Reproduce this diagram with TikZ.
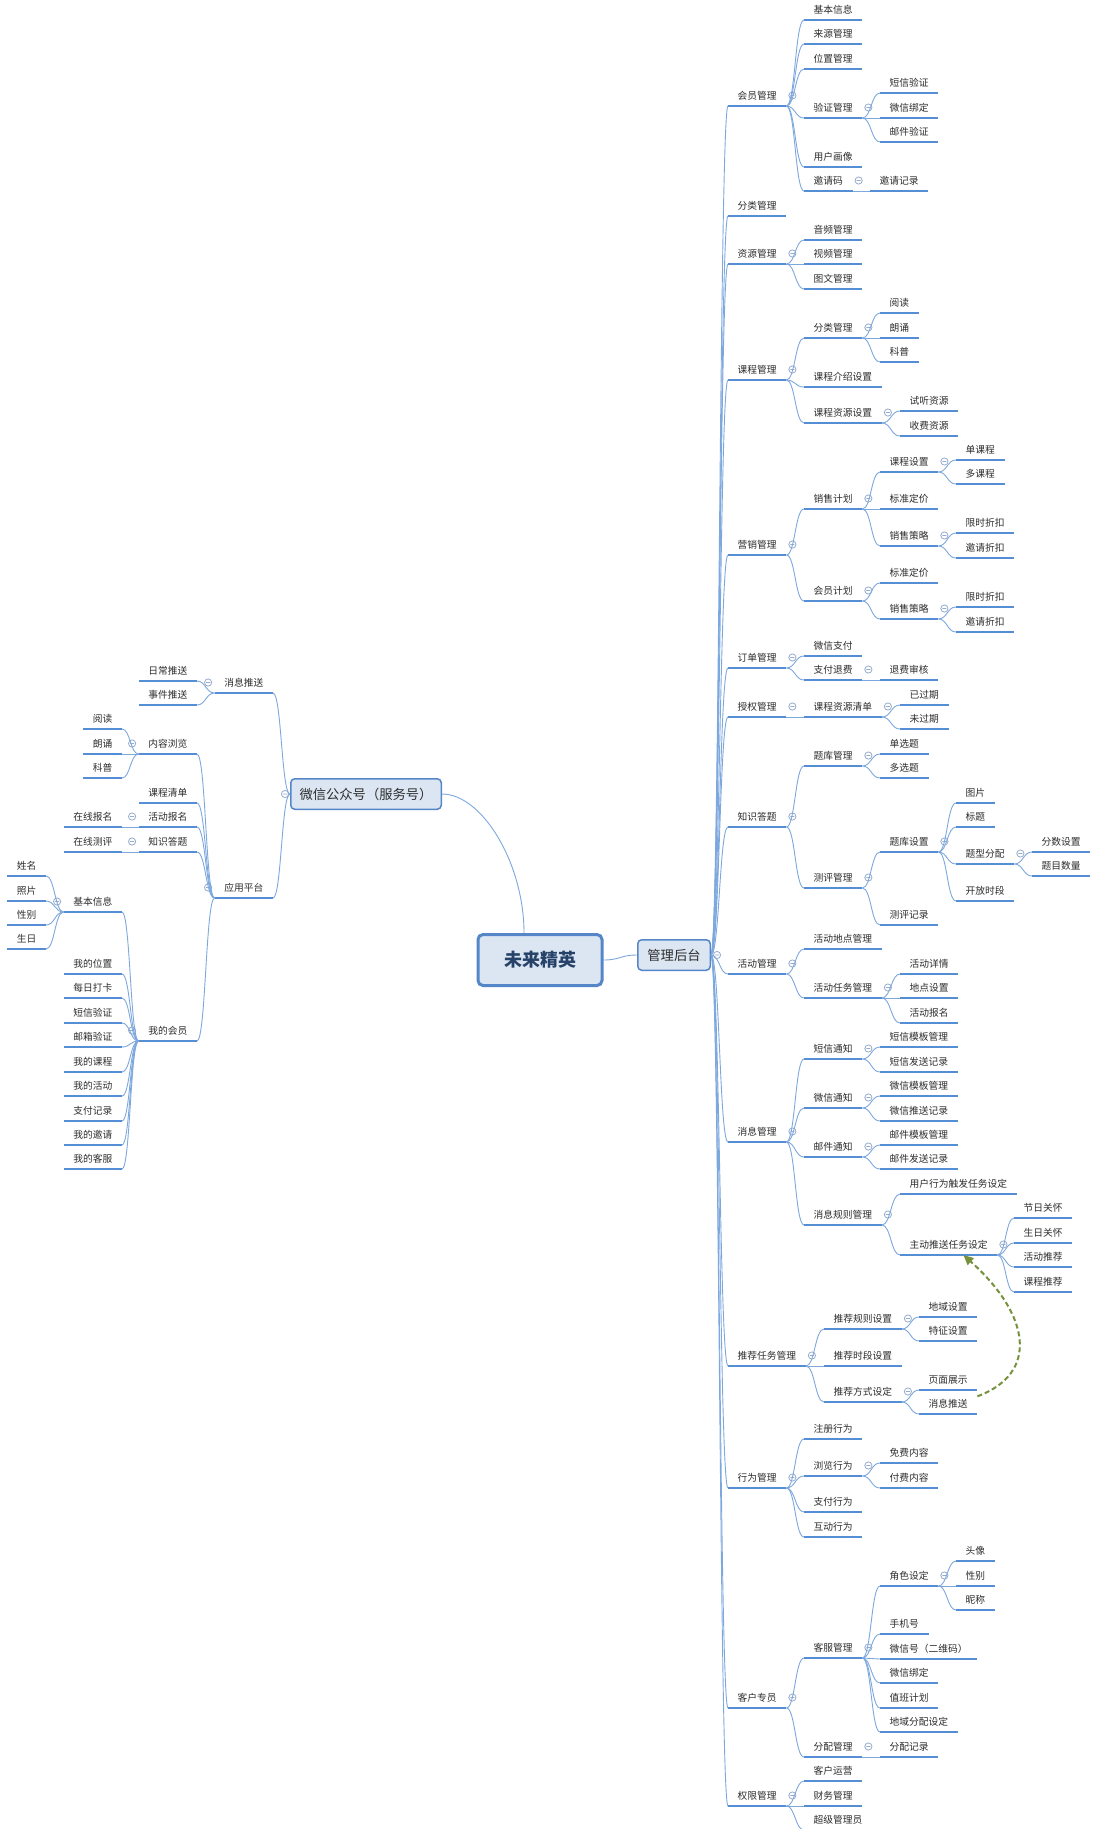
\documentclass[tikz,border=0pt]{standalone}
\usepackage{fontspec}
\usepackage{tikz}
\usetikzlibrary{arrows.meta,calc,positioning}
\newfontfamily\cjk{Noto Sans CJK SC}
\definecolor{ulblue}{RGB}{85,142,213}
\definecolor{lnblue}{RGB}{125,168,222}
\definecolor{foldgray}{RGB}{150,172,205}
\definecolor{boxfill}{RGB}{220,230,242}
\definecolor{boxline}{RGB}{84,134,200}
\definecolor{roottext}{RGB}{38,66,105}
\definecolor{topictext}{RGB}{45,45,45}
\definecolor{linkgreen}{RGB}{118,146,60}
\tikzset{
  uline/.style   = {draw=ulblue, line width=2.4pt},
  conn/.style    = {draw=lnblue, line width=0.9pt},
  branch/.style  = {conn, to path={.. controls ($(\tikztostart)!.5!(\tikztotarget |- \tikztostart)$)
                      and ($(\tikztotarget)!.5!(\tikztotarget -| \tikztostart)$) .. (\tikztotarget)}},
  topic/.style   = {anchor=south west, font=\cjk\fontsize{9.75pt}{11pt}\selectfont, text=topictext,
                    inner xsep=9.5pt, inner ysep=3pt, text height=8pt, text depth=3.3pt,
                    append after command={(\tikzlastnode.south west) edge[uline] (\tikzlastnode.south east)}},
  ltopic/.style  = {topic, anchor=south east},
  foldline/.style = {draw=foldgray, line width=0.8pt, fill=white},
  pics/foldmark/.style = {code={\draw[foldline] (0pt,0pt) circle[radius=3.6pt] (-2pt,0pt) -- (2pt,0pt);}},
  fold/.style    = {append after command={([shift={(6pt,10.5pt)}]\tikzlastnode.south east) pic{foldmark}}},
  lfold/.style   = {append after command={([shift={(-6.5pt,10.5pt)}]\tikzlastnode.south west) pic{foldmark}}},
  rootbox/.style = {draw=boxline, fill=boxfill, line width=3pt, rounded corners=5pt, text=roottext,
                    font=\cjk\bfseries\fontsize{18pt}{20pt}\selectfont, minimum width=124pt, minimum height=51pt},
  subbox/.style  = {draw=boxline, fill=boxfill, line width=1.5pt, rounded corners=4pt, text=topictext,
                    font=\cjk\fontsize{13.3pt}{15pt}\selectfont, minimum height=30.5pt},
  dlink/.style   = {draw=linkgreen, line width=2pt, dash pattern=on 5pt off 3pt,
                    -{Triangle[length=10pt,width=9pt]}},
}
\begin{document}
\begin{tikzpicture}[x=1pt, y=-1pt]
\fill[white] (0,0) rectangle (1093,1829);
\useasboundingbox (0,0) rectangle (1093,1829);

% centre and the two sides
\node[rootbox] (wm) at (540,960) {未来精英};
\node[subbox, minimum width=72.5pt] (glht) at (674,955) {管理后台};
\node[subbox, minimum width=150.5pt] (gzh) at (366,794) {微信公众号（服务号）};
\pic at ([xshift=6pt]glht.east) {foldmark};
\pic at ([xshift=-5pt]gzh.west) {foldmark};
\path (wm.east) edge[branch] (glht.west);
\draw[conn] ([xshift=-16pt]wm.north) .. controls +(0,-70) and +(40,0) .. (gzh.east);

% 管理后台: first level
\node[topic, fold] (hygl) at (728,106) {会员管理};
\node[topic] (flgl) at (728,216) {分类管理};
\node[topic, fold] (zygl) at (728,264) {资源管理};
\node[topic, fold] (kcgl) at (728,380) {课程管理};
\node[topic, fold] (yxgl) at (728,555) {营销管理};
\node[topic, fold] (ddgl) at (728,668) {订单管理};
\node[topic, fold] (sqgl) at (728,717) {授权管理};
\node[topic, fold] (zsdt) at (728,827) {知识答题};
\node[topic, fold] (hdgl) at (728,974) {活动管理};
\node[topic, fold] (xxgl) at (728,1142) {消息管理};
\node[topic, fold] (tjrw) at (728,1366) {推荐任务管理};
\node[topic, fold] (xwgl) at (728,1488) {行为管理};
\node[topic, fold] (khzy) at (728,1708) {客户专员};
\node[topic, fold] (qxgl) at (728,1806) {权限管理};
\path (glht.east) edge[branch] (hygl.south west) edge[branch] (flgl.south west)
  edge[branch] (zygl.south west) edge[branch] (kcgl.south west) edge[branch] (yxgl.south west)
  edge[branch] (ddgl.south west) edge[branch] (sqgl.south west) edge[branch] (zsdt.south west)
  edge[branch] (hdgl.south west) edge[branch] (xxgl.south west) edge[branch] (tjrw.south west)
  edge[branch] (xwgl.south west) edge[branch] (khzy.south west) edge[branch] (qxgl.south west);

% 会员管理
\node[topic] (jbxx) at (804,20) {基本信息};
\node[topic] (lygl) at (804,44) {来源管理};
\node[topic] (wzgl) at (804,69) {位置管理};
\node[topic, fold] (yzgl) at (804,118) {验证管理};
\node[topic] (yhhx) at (804,167) {用户画像};
\node[topic, fold] (yqm) at (804,191) {邀请码};
\node[topic] (dxyz) at (880,93) {短信验证};
\node[topic] (wxbd) at (880,118) {微信绑定};
\node[topic] (yjyz) at (880,142) {邮件验证};
\node[topic] (yqjl) at (870,191) {邀请记录};
\path (hygl.south east) edge[branch] (jbxx.south west) edge[branch] (lygl.south west)
  edge[branch] (wzgl.south west) edge[branch] (yzgl.south west) edge[branch] (yhhx.south west)
  edge[branch] (yqm.south west);
\path (yzgl.south east) edge[branch] (dxyz.south west) edge[branch] (wxbd.south west)
  edge[branch] (yjyz.south west);
\path (yqm.south east) edge[branch] (yqjl.south west);

% 资源管理
\node[topic] (ypgl) at (804,240) {音频管理};
\node[topic] (spgl) at (804,264) {视频管理};
\node[topic] (twgl) at (804,289) {图文管理};
\path (zygl.south east) edge[branch] (ypgl.south west) edge[branch] (spgl.south west)
  edge[branch] (twgl.south west);

% 课程管理
\node[topic, fold] (kcfl) at (804,338) {分类管理};
\node[topic] (kcjs) at (804,387) {课程介绍设置};
\node[topic, fold] (kczy) at (804,423) {课程资源设置};
\node[topic] (yd) at (880,313) {阅读};
\node[topic] (ls) at (880,338) {朗诵};
\node[topic] (kp) at (880,362) {科普};
\node[topic] (stzy) at (900,411) {试听资源};
\node[topic] (sfzy) at (900,436) {收费资源};
\path (kcgl.south east) edge[branch] (kcfl.south west) edge[branch] (kcjs.south west)
  edge[branch] (kczy.south west);
\path (kcfl.south east) edge[branch] (yd.south west) edge[branch] (ls.south west)
  edge[branch] (kp.south west);
\path (kczy.south east) edge[branch] (stzy.south west) edge[branch] (sfzy.south west);

% 营销管理
\node[topic, fold] (xsjh) at (804,509) {销售计划};
\node[topic, fold] (hyjh) at (804,601) {会员计划};
\node[topic, fold] (kcsz) at (880,472) {课程设置};
\node[topic] (bzdj) at (880,509) {标准定价};
\node[topic, fold] (xscl) at (880,546) {销售策略};
\node[topic] (dankc) at (956,460) {单课程};
\node[topic] (duokc) at (956,484) {多课程};
\node[topic] (xszk) at (956,533) {限时折扣};
\node[topic] (yqzk) at (956,558) {邀请折扣};
\node[topic] (hybzdj) at (880,583) {标准定价};
\node[topic, fold] (hyxscl) at (880,619) {销售策略};
\node[topic] (hyxszk) at (956,607) {限时折扣};
\node[topic] (hyyqzk) at (956,632) {邀请折扣};
\path (yxgl.south east) edge[branch] (xsjh.south west) edge[branch] (hyjh.south west);
\path (xsjh.south east) edge[branch] (kcsz.south west) edge[branch] (bzdj.south west)
  edge[branch] (xscl.south west);
\path (kcsz.south east) edge[branch] (dankc.south west) edge[branch] (duokc.south west);
\path (xscl.south east) edge[branch] (xszk.south west) edge[branch] (yqzk.south west);
\path (hyjh.south east) edge[branch] (hybzdj.south west) edge[branch] (hyxscl.south west);
\path (hyxscl.south east) edge[branch] (hyxszk.south west) edge[branch] (hyyqzk.south west);

% 订单管理 and 授权管理
\node[topic] (wxzf) at (804,656) {微信支付};
\node[topic, fold] (zftf) at (804,680) {支付退费};
\node[topic] (tfsh) at (880,680) {退费审核};
\node[topic, fold] (zyqd) at (804,717) {课程资源清单};
\node[topic] (ygq) at (900,705) {已过期};
\node[topic] (wgq) at (900,729) {未过期};
\path (ddgl.south east) edge[branch] (wxzf.south west) edge[branch] (zftf.south west);
\path (zftf.south east) edge[branch] (tfsh.south west);
\path (sqgl.south east) edge[branch] (zyqd.south west);
\path (zyqd.south east) edge[branch] (ygq.south west) edge[branch] (wgq.south west);

% 知识答题
\node[topic, fold] (tkgl) at (804,766) {题库管理};
\node[topic, fold] (cpgl) at (804,888) {测评管理};
\node[topic] (danxt) at (880,754) {单选题};
\node[topic] (duoxt) at (880,778) {多选题};
\node[topic, fold] (tksz) at (880,852) {题库设置};
\node[topic] (cpjl) at (880,925) {测评记录};
\node[topic] (tp) at (956,803) {图片};
\node[topic] (bt) at (956,827) {标题};
\node[topic, fold] (txfp) at (956,864) {题型分配};
\node[topic] (kfsd) at (956,901) {开放时段};
\node[topic] (fssz) at (1032,852) {分数设置};
\node[topic] (tmsl) at (1032,876) {题目数量};
\path (zsdt.south east) edge[branch] (tkgl.south west) edge[branch] (cpgl.south west);
\path (tkgl.south east) edge[branch] (danxt.south west) edge[branch] (duoxt.south west);
\path (cpgl.south east) edge[branch] (tksz.south west) edge[branch] (cpjl.south west);
\path (tksz.south east) edge[branch] (tp.south west) edge[branch] (bt.south west)
  edge[branch] (txfp.south west) edge[branch] (kfsd.south west);
\path (txfp.south east) edge[branch] (fssz.south west) edge[branch] (tmsl.south west);

% 活动管理
\node[topic] (hddd) at (804,949) {活动地点管理};
\node[topic, fold] (hdrw) at (804,998) {活动任务管理};
\node[topic] (hdxq) at (900,974) {活动详情};
\node[topic] (ddsz) at (900,998) {地点设置};
\node[topic] (hdbm) at (900,1023) {活动报名};
\path (hdgl.south east) edge[branch] (hddd.south west) edge[branch] (hdrw.south west);
\path (hdrw.south east) edge[branch] (hdxq.south west) edge[branch] (ddsz.south west)
  edge[branch] (hdbm.south west);

% 消息管理
\node[topic, fold] (dxtz) at (804,1059) {短信通知};
\node[topic, fold] (wxtz) at (804,1108) {微信通知};
\node[topic, fold] (yjtz) at (804,1157) {邮件通知};
\node[topic, fold] (xxgz) at (804,1225) {消息规则管理};
\node[topic] (dxmb) at (880,1047) {短信模板管理};
\node[topic] (dxfs) at (880,1072) {短信发送记录};
\node[topic] (wxmb) at (880,1096) {微信模板管理};
\node[topic] (wxtsjl) at (880,1121) {微信推送记录};
\node[topic] (yjmb) at (880,1145) {邮件模板管理};
\node[topic] (yjfs) at (880,1169) {邮件发送记录};
\node[topic] (yhxw) at (900,1194) {用户行为触发任务设定};
\node[topic, fold] (zdts) at (900,1255) {主动推送任务设定};
\node[topic] (jrgh) at (1014,1218) {节日关怀};
\node[topic] (srgh) at (1014,1243) {生日关怀};
\node[topic] (hdtj) at (1014,1267) {活动推荐};
\node[topic] (kctj) at (1014,1292) {课程推荐};
\path (xxgl.south east) edge[branch] (dxtz.south west) edge[branch] (wxtz.south west)
  edge[branch] (yjtz.south west) edge[branch] (xxgz.south west);
\path (dxtz.south east) edge[branch] (dxmb.south west) edge[branch] (dxfs.south west);
\path (wxtz.south east) edge[branch] (wxmb.south west) edge[branch] (wxtsjl.south west);
\path (yjtz.south east) edge[branch] (yjmb.south west) edge[branch] (yjfs.south west);
\path (xxgz.south east) edge[branch] (yhxw.south west) edge[branch] (zdts.south west);
\path (zdts.south east) edge[branch] (jrgh.south west) edge[branch] (srgh.south west)
  edge[branch] (hdtj.south west) edge[branch] (kctj.south west);

% 推荐任务管理
\node[topic, fold] (tjgz) at (824,1329) {推荐规则设置};
\node[topic] (tjsd) at (824,1366) {推荐时段设置};
\node[topic, fold] (tjfs) at (824,1402) {推荐方式设定};
\node[topic] (dysz) at (919,1317) {地域设置};
\node[topic] (tzsz) at (919,1341) {特征设置};
\node[topic] (ymzs) at (919,1390) {页面展示};
\node[topic] (tjxxts) at (919,1414) {消息推送};
\path (tjrw.south east) edge[branch] (tjgz.south west) edge[branch] (tjsd.south west)
  edge[branch] (tjfs.south west);
\path (tjgz.south east) edge[branch] (dysz.south west) edge[branch] (tzsz.south west);
\path (tjfs.south east) edge[branch] (ymzs.south west) edge[branch] (tjxxts.south west);
\draw[dlink] (tjxxts.north east) .. controls +(62,-23) and +(67,60) .. ([xshift=-34pt]zdts.south east);

% 行为管理
\node[topic] (zcxw) at (804,1439) {注册行为};
\node[topic, fold] (llxw) at (804,1476) {浏览行为};
\node[topic] (zfxw) at (804,1512) {支付行为};
\node[topic] (hdxw) at (804,1537) {互动行为};
\node[topic] (mfnr) at (880,1463) {免费内容};
\node[topic] (ffnr) at (880,1488) {付费内容};
\path (xwgl.south east) edge[branch] (zcxw.south west) edge[branch] (llxw.south west)
  edge[branch] (zfxw.south west) edge[branch] (hdxw.south west);
\path (llxw.south east) edge[branch] (mfnr.south west) edge[branch] (ffnr.south west);

% 客户专员 and 权限管理
\node[topic, fold] (kfgl) at (804,1658) {客服管理};
\node[topic, fold] (fpgl) at (804,1757) {分配管理};
\node[topic, fold] (jssd) at (880,1586) {角色设定};
\node[topic] (sjh) at (880,1634) {手机号};
\node[topic] (wxh) at (880,1659) {微信号（二维码）};
\node[topic] (kfwxbd) at (880,1683) {微信绑定};
\node[topic] (zbjh) at (880,1708) {值班计划};
\node[topic] (dyfp) at (880,1732) {地域分配设定};
\node[topic] (tx) at (956,1561) {头像};
\node[topic] (xb) at (956,1586) {性别};
\node[topic] (nc) at (956,1610) {昵称};
\node[topic] (fpjl) at (880,1757) {分配记录};
\node[topic] (khyy) at (804,1781) {客户运营};
\node[topic] (cwgl) at (804,1806) {财务管理};
\node[topic] (cjgly) at (804,1830) {超级管理员};
\path (khzy.south east) edge[branch] (kfgl.south west) edge[branch] (fpgl.south west);
\path (kfgl.south east) edge[branch] (jssd.south west) edge[branch] (sjh.south west)
  edge[branch] (wxh.south west) edge[branch] (kfwxbd.south west) edge[branch] (zbjh.south west)
  edge[branch] (dyfp.south west);
\path (jssd.south east) edge[branch] (tx.south west) edge[branch] (xb.south west)
  edge[branch] (nc.south west);
\path (fpgl.south east) edge[branch] (fpjl.south west);
\path (qxgl.south east) edge[branch] (khyy.south west) edge[branch] (cwgl.south west)
  edge[branch] (cjgly.south west);

% 微信公众号: left side
\node[ltopic, lfold] (xxts) at (273,693) {消息推送};
\node[ltopic, lfold] (yypt) at (273,898) {应用平台};
\node[ltopic] (rcts) at (197,681) {日常推送};
\node[ltopic] (sjts) at (197,705) {事件推送};
\node[ltopic, lfold] (nrll) at (197,754) {内容浏览};
\node[ltopic] (kcqd) at (197,803) {课程清单};
\node[ltopic, lfold] (wxhdbm) at (197,827) {活动报名};
\node[ltopic, lfold] (wxzsdt) at (197,852) {知识答题};
\node[ltopic, lfold] (wdhy) at (197,1041) {我的会员};
\node[ltopic] (llyd) at (122,729) {阅读};
\node[ltopic] (llls) at (122,754) {朗诵};
\node[ltopic] (llkp) at (122,778) {科普};
\node[ltopic] (zxbm) at (122,827) {在线报名};
\node[ltopic] (zxcp) at (122,852) {在线测评};
\node[ltopic, lfold] (hyjbxx) at (122,912) {基本信息};
\node[ltopic] (wdwz) at (122,974) {我的位置};
\node[ltopic] (mrdk) at (122,998) {每日打卡};
\node[ltopic] (hydxyz) at (122,1023) {短信验证};
\node[ltopic] (yxyz) at (122,1047) {邮箱验证};
\node[ltopic] (wdkc) at (122,1072) {我的课程};
\node[ltopic] (wdhd) at (122,1096) {我的活动};
\node[ltopic] (zfjl) at (122,1121) {支付记录};
\node[ltopic] (wdyq) at (122,1145) {我的邀请};
\node[ltopic] (wdkf) at (122,1169) {我的客服};
\node[ltopic] (xm) at (46,876) {姓名};
\node[ltopic] (zp) at (46,901) {照片};
\node[ltopic] (xbie) at (46,925) {性别};
\node[ltopic] (sr) at (46,949) {生日};
\path (gzh.west) edge[branch] (xxts.south east) edge[branch] (yypt.south east);
\path (xxts.south west) edge[branch] (rcts.south east) edge[branch] (sjts.south east);
\path (yypt.south west) edge[branch] (nrll.south east) edge[branch] (kcqd.south east)
  edge[branch] (wxhdbm.south east) edge[branch] (wxzsdt.south east) edge[branch] (wdhy.south east);
\path (nrll.south west) edge[branch] (llyd.south east) edge[branch] (llls.south east)
  edge[branch] (llkp.south east);
\path (wxhdbm.south west) edge[branch] (zxbm.south east);
\path (wxzsdt.south west) edge[branch] (zxcp.south east);
\path (wdhy.south west) edge[branch] (hyjbxx.south east) edge[branch] (wdwz.south east)
  edge[branch] (mrdk.south east) edge[branch] (hydxyz.south east) edge[branch] (yxyz.south east)
  edge[branch] (wdkc.south east) edge[branch] (wdhd.south east) edge[branch] (zfjl.south east)
  edge[branch] (wdyq.south east) edge[branch] (wdkf.south east);
\path (hyjbxx.south west) edge[branch] (xm.south east) edge[branch] (zp.south east)
  edge[branch] (xbie.south east) edge[branch] (sr.south east);

\end{tikzpicture}
\end{document}
